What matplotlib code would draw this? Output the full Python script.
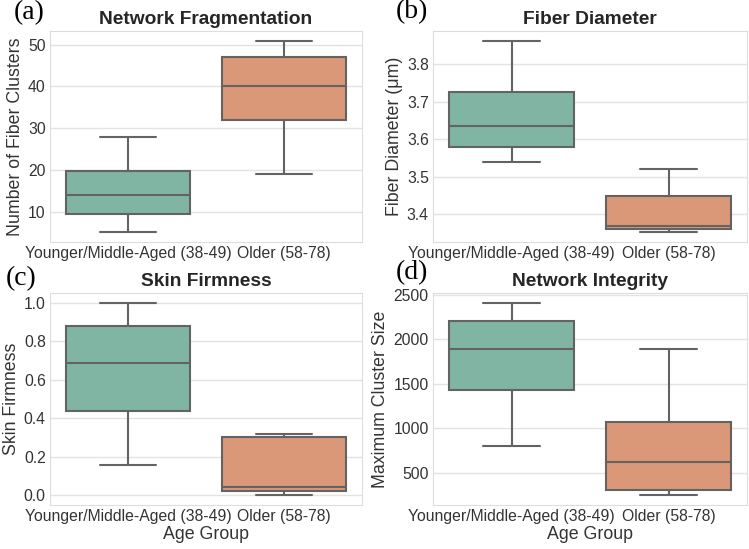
import matplotlib
matplotlib.use("Agg")
import matplotlib.pyplot as plt
import seaborn as sns

sns.set_style("whitegrid")
plt.rcParams['font.family'] = ['Liberation Sans', 'DejaVu Sans']

groups = ["Younger/Middle-Aged (38-49)", "Older (58-78)"]

# box stats per group: whisker low, q1, median, q3, whisker high
frag_young = [5, 9.5, 14, 19.8, 28]
frag_old = [19, 32, 40, 47, 51]
diam_young = [3.54, 3.578, 3.635, 3.725, 3.862]
diam_old = [3.352, 3.36, 3.37, 3.45, 3.52]
firm_young = [0.155, 0.437, 0.685, 0.878, 1.0]
firm_old = [0.0, 0.025, 0.045, 0.302, 0.318]
integ_young = [795, 1430, 1885, 2200, 2410]
integ_old = [245, 305, 625, 1070, 1885]

panels = [
    ("(a)", "Network Fragmentation", "Number of Fiber Clusters", frag_young, frag_old, False),
    ("(b)", "Fiber Diameter", "Fiber Diameter (\u03bcm)", diam_young, diam_old, False),
    ("(c)", "Skin Firmness", "Skin Firmness", firm_young, firm_old, True),
    ("(d)", "Network Integrity", "Maximum Cluster Size", integ_young, integ_old, True),
]

W, H = 749, 549
# axes rects in pixels: left, top, right, bottom
rects = [(50, 31, 362, 242), (433, 31, 747, 242), (50, 293, 362, 505), (433, 293, 747, 505)]
label_pos = [(14, 13), (396, 12), (6, 279), (396, 273)]

colors = ["#7fb5a2", "#da9878"]
edge = "#636363"

fig = plt.figure(figsize=(W / 100, H / 100), dpi=100)

for (lab, title, ylab, young, old, show_x), (l, t, r, b), (lx, ly) in zip(panels, rects, label_pos):
    ax = fig.add_axes([l / W, 1 - b / H, (r - l) / W, (b - t) / H])
    stats = []
    for name, s in zip(groups, [young, old]):
        stats.append(dict(label=name, whislo=s[0], q1=s[1], med=s[2], q3=s[3], whishi=s[4], fliers=[]))
    bp = ax.bxp(stats, positions=[0, 1], widths=0.8, capwidths=0.36, patch_artist=True,
                boxprops=dict(edgecolor=edge, linewidth=1.5),
                medianprops=dict(color=edge, linewidth=1.5),
                whiskerprops=dict(color=edge, linewidth=1.5),
                capprops=dict(color=edge, linewidth=1.5))
    for patch, c in zip(bp["boxes"], colors):
        patch.set_facecolor(c)
    ax.set_xlim(-0.5, 1.5)
    ax.xaxis.grid(False)
    ax.yaxis.grid(True, color="#e3e3e3", linewidth=1.0)
    ax.set_axisbelow(True)
    for sp in ax.spines.values():
        sp.set_color("#dddddd")
    ax.tick_params(axis="both", length=0, labelsize=11.3, colors="#333333", pad=3)
    ax.set_ylabel(ylab, fontsize=12.8, color="#333333", labelpad=3)
    ax.set_title(title, fontsize=13.8, fontweight="bold", color="#262626", pad=5)
    if show_x:
        ax.set_xlabel("Age Group", fontsize=12.8, color="#333333", labelpad=1)
    fig.text(lx / W, 1 - ly / H, lab, family="Liberation Serif", fontsize=20,
             ha="left", va="center", color="black")

fig.savefig("out.png", dpi=100)
